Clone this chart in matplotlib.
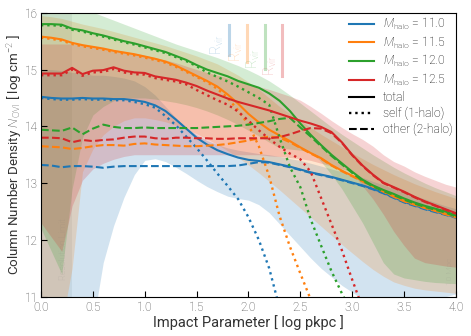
import numpy as np
import matplotlib
matplotlib.use("Agg")
import matplotlib.pyplot as plt

plt.rcParams['font.family'] = ['Roboto', 'DejaVu Sans']
plt.rcParams['font.weight'] = 'light'
plt.rcParams['mathtext.fontset'] = 'custom'
plt.rcParams['mathtext.rm'] = 'Roboto'
plt.rcParams['mathtext.it'] = 'Roboto:italic'

# impact parameter grid [log pkpc]
x = np.round(np.arange(0, 4.01, 0.1), 2)

masses = ["11.0", "11.5", "12.0", "12.5"]
colors = ["#1f77b4", "#ff7f0e", "#2ca02c", "#d62728"]
rvir_x = [1.81, 1.99, 2.16, 2.32]

# ---- M = 11.0 ----
tot_110 = [14.52, 14.50, 14.49, 14.49, 14.50, 14.49, 14.49, 14.48, 14.48, 14.46,
           14.43, 14.37, 14.27, 14.12, 13.96, 13.80, 13.68, 13.58, 13.51, 13.45,
           13.41, 13.39, 13.37, 13.33, 13.29, 13.24, 13.19, 13.15, 13.11, 13.06,
           13.01, 12.96, 12.90, 12.83, 12.75, 12.67, 12.61, 12.55, 12.50, 12.45, 12.40]
self_110 = [14.50, 14.48, 14.47, 14.47, 14.48, 14.47, 14.47, 14.46, 14.46, 14.43,
            14.39, 14.33, 14.18, 14.02, 13.82, 13.62, 13.40, 13.17, 12.95, 12.72,
            12.40, 12.00, 11.50, 10.80, np.nan, np.nan, np.nan, np.nan, np.nan, np.nan,
            np.nan, np.nan, np.nan, np.nan, np.nan, np.nan, np.nan, np.nan, np.nan, np.nan, np.nan]
oth_110 = [13.32, 13.31, 13.28, 13.30, 13.30, 13.29, 13.27, 13.29, 13.30, 13.30,
           13.30, 13.30, 13.30, 13.30, 13.30, 13.30, 13.30, 13.30, 13.30, 13.31,
           13.34, 13.37, 13.36, 13.32, 13.28, 13.23, 13.18, 13.14, 13.10, 13.05,
           13.00, 12.95, 12.89, 12.82, 12.74, 12.66, 12.60, 12.54, 12.49, 12.44, 12.39]
lo_110 = [10.5, 10.5, 10.5, 10.5, 10.5, 10.5, 11.6, 12.25, 12.75, 13.15,
          13.40, 13.43, 13.38, 13.28, 13.17, 13.05, 12.94, 12.85, 12.77, 12.73,
          12.70, 12.62, 12.48, 12.28, 12.08, 11.88, 11.68, 11.50, 11.35, 11.20,
          11.08, 10.95, 10.90, 10.90, 10.90, 10.90, 10.90, 10.90, 10.95, 11.00, 11.05]
hi_110 = [15.00, 15.00, 14.98, 14.95, 14.93, 14.90, 14.90, 14.88, 14.85, 14.80,
          14.70, 14.55, 14.35, 14.15, 13.98, 13.85, 13.75, 13.68, 13.62, 13.58,
          13.55, 13.52, 13.50, 13.47, 13.43, 13.40, 13.35, 13.30, 13.25, 13.20,
          13.15, 13.10, 13.03, 12.97, 12.90, 12.84, 12.78, 12.72, 12.66, 12.60, 12.55]

# ---- M = 11.5 ----
tot_115 = [15.58, 15.56, 15.53, 15.47, 15.43, 15.40, 15.37, 15.33, 15.30, 15.27,
           15.23, 15.19, 15.14, 15.07, 14.98, 14.89, 14.80, 14.70, 14.56, 14.40,
           14.22, 14.07, 13.94, 13.84, 13.74, 13.63, 13.53, 13.44, 13.32, 13.22,
           13.13, 13.04, 12.95, 12.86, 12.77, 12.69, 12.63, 12.57, 12.52, 12.46, 12.41]
self_115 = [15.56, 15.54, 15.51, 15.45, 15.41, 15.38, 15.35, 15.31, 15.28, 15.25,
            15.21, 15.17, 15.12, 15.05, 14.96, 14.87, 14.78, 14.66, 14.50, 14.28,
            14.03, 13.65, 13.12, 12.42, 11.88, 11.41, 10.95, np.nan, np.nan, np.nan,
            np.nan, np.nan, np.nan, np.nan, np.nan, np.nan, np.nan, np.nan, np.nan, np.nan, np.nan]
oth_115 = [13.65, 13.64, 13.63, 13.60, 13.62, 13.65, 13.67, 13.67, 13.66, 13.69,
           13.70, 13.68, 13.67, 13.66, 13.65, 13.65, 13.66, 13.67, 13.69, 13.72,
           13.75, 13.79, 13.82, 13.80, 13.72, 13.62, 13.52, 13.43, 13.31, 13.21,
           13.12, 13.03, 12.94, 12.85, 12.76, 12.68, 12.62, 12.56, 12.51, 12.45, 12.40]
lo_115 = [10.5, 10.5, 10.5, 11.5, 13.2, 13.6, 13.85, 14.0, 14.1, 14.15,
          14.15, 14.12, 14.08, 14.02, 13.95, 13.87, 13.78, 13.68, 13.57, 13.45,
          13.32, 13.18, 13.03, 12.88, 12.72, 12.56, 12.40, 12.24, 12.08, 11.92,
          11.77, 11.62, 11.48, 11.36, 11.26, 11.20, 11.15, 11.12, 11.10, 11.08, 11.06]
hi_115 = [15.95, 15.93, 15.90, 15.85, 15.80, 15.76, 15.72, 15.67, 15.62, 15.57,
          15.52, 15.47, 15.42, 15.36, 15.30, 15.24, 15.17, 15.10, 15.00, 14.90,
          14.78, 14.65, 14.50, 14.35, 14.22, 14.10, 13.98, 13.86, 13.75, 13.64,
          13.53, 13.43, 13.33, 13.24, 13.15, 13.07, 12.99, 12.92, 12.85, 12.79, 12.73]

# ---- M = 12.0 ----
tot_120 = [15.80, 15.80, 15.79, 15.72, 15.69, 15.64, 15.60, 15.55, 15.50, 15.46,
           15.41, 15.36, 15.31, 15.24, 15.17, 15.08, 15.00, 14.94, 14.88, 14.80,
           14.74, 14.68, 14.58, 14.45, 14.27, 14.05, 13.85, 13.67, 13.50, 13.35,
           13.20, 13.06, 12.96, 12.88, 12.81, 12.73, 12.66, 12.60, 12.55, 12.50, 12.43]
self_120 = [15.78, 15.78, 15.77, 15.70, 15.67, 15.62, 15.58, 15.53, 15.48, 15.44,
            15.39, 15.34, 15.29, 15.22, 15.15, 15.06, 14.95, 14.87, 14.79, 14.70,
            14.60, 14.50, 14.38, 13.80, 13.28, 12.93, 12.36, 11.90, 11.45, 11.06,
            10.70, np.nan, np.nan, np.nan, np.nan, np.nan, np.nan, np.nan, np.nan, np.nan, np.nan]
oth_120 = [13.94, 13.93, 13.92, 13.98, 13.86, 13.96, 14.03, 13.99, 13.97, 13.97,
           13.98, 13.97, 13.97, 13.97, 13.97, 13.97, 13.98, 13.99, 14.00, 14.01,
           14.03, 14.06, 14.09, 14.13, 14.15, 13.98, 13.82, 13.65, 13.48, 13.33,
           13.18, 13.04, 12.94, 12.86, 12.79, 12.71, 12.64, 12.58, 12.53, 12.48, 12.41]
lo_120 = [12.20, 11.80, 11.40, 12.90, 13.80, 14.20, 14.35, 14.45, 14.50, 14.50,
          14.50, 14.48, 14.45, 14.42, 14.38, 14.33, 14.27, 14.20, 14.12, 14.03,
          13.93, 13.83, 13.72, 13.62, 13.60, 13.58, 13.55, 13.38, 13.15, 12.90,
          12.60, 12.30, 11.95, 11.60, 11.40, 11.33, 11.30, 11.27, 11.25, 11.24, 11.23]
hi_120 = [16.40, 16.30, 16.22, 16.15, 16.08, 16.01, 15.94, 15.87, 15.80, 15.73,
          15.66, 15.59, 15.52, 15.45, 15.39, 15.33, 15.27, 15.21, 15.14, 15.07,
          14.99, 14.90, 14.80, 14.68, 14.55, 14.41, 14.27, 14.13, 13.99, 13.86,
          13.74, 13.62, 13.50, 13.39, 13.28, 13.18, 13.09, 13.00, 12.92, 12.85, 12.78]

# ---- M = 12.5 ----
tot_125 = [14.93, 14.93, 14.93, 15.03, 14.92, 14.98, 14.99, 15.04, 14.98, 14.95,
           14.94, 14.88, 14.85, 14.82, 14.77, 14.71, 14.63, 14.56, 14.49, 14.43,
           14.38, 14.33, 14.28, 14.22, 14.16, 14.10, 14.05, 13.99, 13.90, 13.72,
           13.50, 13.31, 13.15, 13.01, 12.93, 12.85, 12.76, 12.68, 12.61, 12.54, 12.47]
self_125 = [14.90, 14.90, 14.90, 15.00, 14.89, 14.95, 14.96, 15.01, 14.95, 14.92,
            14.91, 14.85, 14.82, 14.79, 14.74, 14.64, 14.55, 14.46, 14.38, 14.26,
            14.10, 13.93, 13.78, 13.64, 13.52, 13.42, 13.20, 12.74, 12.28, 11.82,
            11.30, 10.80, np.nan, np.nan, np.nan, np.nan, np.nan, np.nan, np.nan, np.nan, np.nan]
oth_125 = [13.80, 13.80, 13.79, 13.72, 13.76, 13.74, 13.76, 13.77, 13.80, 13.82,
           13.82, 13.79, 13.78, 13.80, 13.80, 13.79, 13.79, 13.78, 13.78, 13.79,
           13.79, 13.79, 13.79, 13.81, 13.86, 13.92, 13.97, 13.96, 13.88, 13.71,
           13.49, 13.30, 13.14, 13.00, 12.92, 12.84, 12.75, 12.67, 12.60, 12.53, 12.46]
lo_125 = [12.30, 12.05, 11.80, 12.60, 13.05, 13.25, 13.35, 13.42, 13.47, 13.50,
          13.50, 13.50, 13.50, 13.50, 13.50, 13.50, 13.50, 13.50, 13.50, 13.50,
          13.50, 13.50, 13.48, 13.47, 13.45, 13.43, 13.40, 13.35, 13.30, 13.25,
          13.20, 12.95, 12.72, 12.45, 12.15, 11.90, 11.68, 11.60, 11.57, 11.54, 11.52]
hi_125 = [15.45, 15.45, 15.45, 15.45, 15.43, 15.40, 15.38, 15.35, 15.32, 15.28,
          15.25, 15.21, 15.17, 15.12, 15.06, 15.00, 14.95, 14.90, 14.85, 14.80,
          14.75, 14.70, 14.65, 14.59, 14.53, 14.46, 14.35, 14.23, 14.10, 13.98,
          13.87, 13.77, 13.65, 13.50, 13.38, 13.30, 13.20, 13.12, 13.05, 12.98, 12.93]

totals = [tot_110, tot_115, tot_120, tot_125]
selfs = [self_110, self_115, self_120, self_125]
others = [oth_110, oth_115, oth_120, oth_125]
lows = [lo_110, lo_115, lo_120, lo_125]
highs = [hi_110, hi_115, hi_120, hi_125]

fig = plt.figure(figsize=(4.71, 3.36), dpi=100)
ax = fig.add_axes([0.087, 0.117, 0.881, 0.845])

ax.axvspan(0, 0.3, color='gray', alpha=0.12, lw=0, zorder=0)
ax.text(0.22, 11.3, "Resolution Limit", rotation=90, fontsize=6.5, color='gray',
        alpha=0.3, ha='center', va='bottom')

for i in range(4):
    c = colors[i]
    ax.fill_between(x, lows[i], highs[i], color=c, alpha=0.2, lw=0)
for i in range(4):
    c = colors[i]
    ax.plot(x, totals[i], '-', color=c, lw=1.5, label=r"$M_{\rm halo}$ = " + masses[i])
    ax.plot(x, selfs[i], ':', color=c, lw=1.7)
    ax.plot(x, others[i], '--', color=c, lw=1.5)
    ax.plot([rvir_x[i], rvir_x[i]], [15.78, 15.25 - 0.12 * i], '-', color=c, lw=2.2, alpha=0.3)
    ax.text(rvir_x[i] - 0.025, 15.25 - 0.12 * i, r"R$_{\rm vir}$", rotation=90, color=c,
            alpha=0.35, fontsize=10, ha='right', va='bottom')

ax.text(3.94, 11.2, "10 Mpc", rotation=90, fontsize=6, color='gray', alpha=0.3,
        ha='center', va='bottom')

ax.plot([], [], '-', color='black', lw=1.5, label='total')
ax.plot([], [], ':', color='black', lw=1.7, label='self (1-halo)')
ax.plot([], [], '--', color='black', lw=1.5, label='other (2-halo)')

ax.legend(loc='upper right', frameon=False, fontsize=8.7, handlelength=2.1,
          labelspacing=0.22, borderaxespad=0.0, borderpad=0.25, handletextpad=0.75)

ax.set_xlim(0, 4)
ax.set_ylim(11, 16)
ax.set_xticks(np.arange(0, 4.01, 0.5))
ax.set_yticks([11, 12, 13, 14, 15, 16])
ax.set_xticklabels([f"{v:.1f}" for v in np.arange(0, 4.01, 0.5)])
ax.tick_params(direction='in', labelsize=8.5, labelcolor='#444444', length=4)
ax.tick_params(axis='x', pad=3)
ax.tick_params(axis='y', pad=2)
ax.set_xlabel("Impact Parameter [ log pkpc ]", fontsize=10.5, color='#333333', labelpad=1)
ax.set_ylabel(r"Column Number Density $N_{\rm OVI}$ [ log cm$^{-2}$ ]", fontsize=9.6,
              color='#333333')
ax.yaxis.set_label_coords(-0.039, 0.5)

fig.savefig("out.png", dpi=100)
